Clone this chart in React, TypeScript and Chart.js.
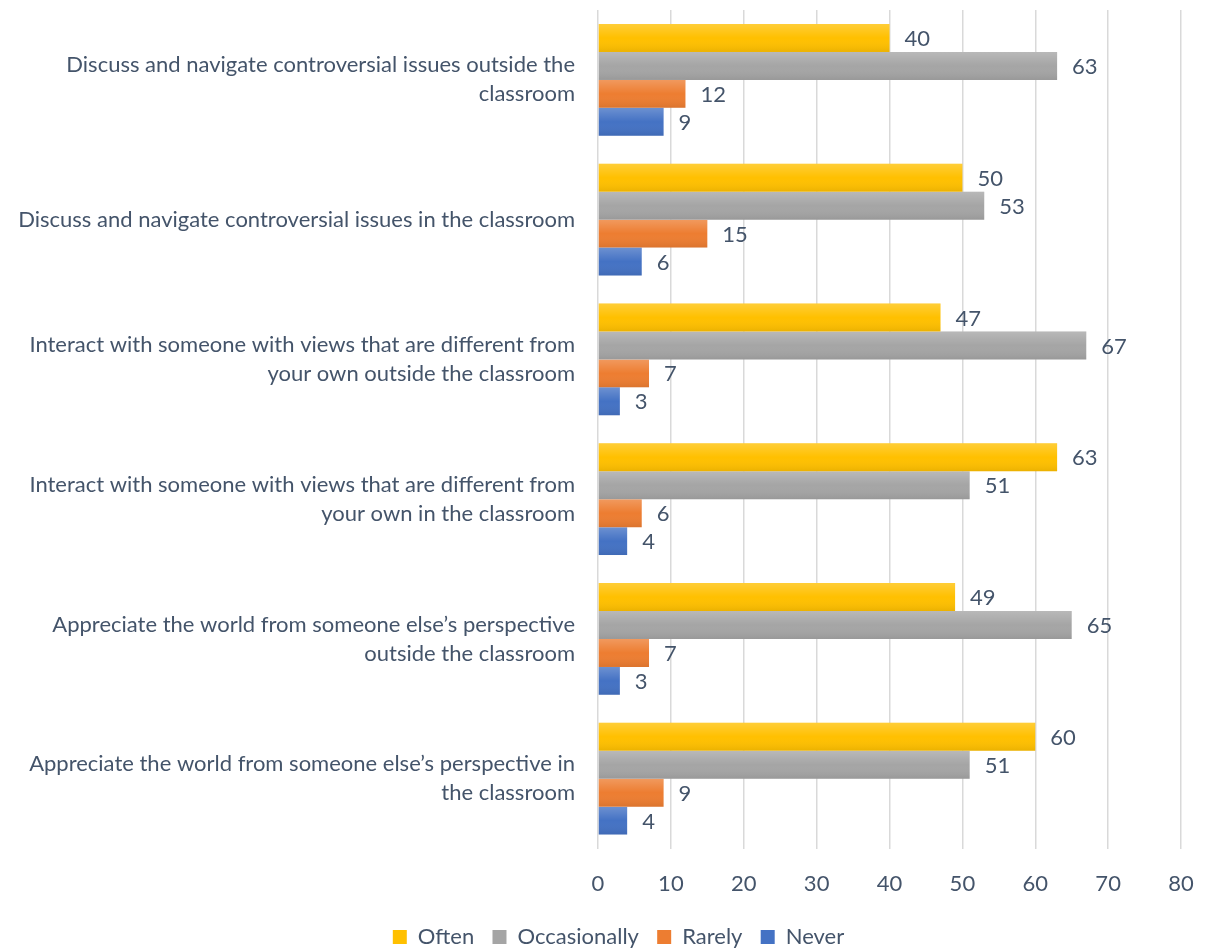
import React, { useEffect, useRef } from "react";
import { Chart, registerables } from "chart.js";

Chart.register(...registerables);

const categories: (string | string[])[] = [
  ["Discuss and navigate controversial issues outside the", "classroom"],
  "Discuss and navigate controversial issues in the classroom",
  ["Interact with someone with views that are different from", "your own outside the classroom"],
  ["Interact with someone with views that are different from", "your own in the classroom"],
  ["Appreciate the world from someone else\u2019s perspective", "outside the classroom"],
  ["Appreciate the world from someone else\u2019s perspective in", "the classroom"],
];

const seriesNames = ["Often", "Occasionally", "Rarely", "Never"];
const often = [40, 50, 47, 63, 49, 60];
const occasionally = [63, 53, 67, 51, 65, 51];
const rarely = [12, 15, 7, 6, 7, 9];
const never = [9, 6, 3, 4, 3, 4];

const xTicks = [0, 10, 20, 30, 40, 50, 60, 70, 80];

const TEXT = "#44546A";
const FONT = "Lato, 'Noto Sans', sans-serif";
const FS = 22;

const shadePlugin = {
  id: "shade",
  afterDatasetsDraw(chart: any) {
    const ctx = chart.ctx;
    chart.data.datasets.forEach((ds: any, di: number) => {
      const meta = chart.getDatasetMeta(di);
      meta.data.forEach((el: any) => {
        const top = el.y - el.height / 2;
        const bottom = el.y + el.height / 2;
        const g = ctx.createLinearGradient(0, top, 0, bottom);
        g.addColorStop(0, "rgba(255,255,255,0.22)");
        g.addColorStop(0.5, "rgba(255,255,255,0)");
        g.addColorStop(1, "rgba(0,0,0,0.08)");
        ctx.save();
        ctx.fillStyle = g;
        ctx.fillRect(Math.min(el.base, el.x), top, Math.abs(el.x - el.base), bottom - top);
        ctx.restore();
      });
    });
  },
};

const labelPlugin = {
  id: "valueLabels",
  afterDatasetsDraw(chart: any) {
    const ctx = chart.ctx;
    ctx.save();
    ctx.font = `${FS}px ${FONT}`;
    ctx.fillStyle = TEXT;
    ctx.textAlign = "left";
    ctx.textBaseline = "middle";
    chart.data.datasets.forEach((ds: any, di: number) => {
      const meta = chart.getDatasetMeta(di);
      meta.data.forEach((el: any, i: number) => {
        ctx.fillText(String(ds.data[i]), el.x + 15, el.y + 1);
      });
    });
    ctx.restore();
  },
};

const legendShift = {
  id: "legendShift",
  afterLayout(chart: any) {
    if (chart.legend) {
      chart.legend.left += 28;
      chart.legend.right += 28;
    }
  },
};

export default function App() {
  const ref = useRef<HTMLCanvasElement>(null);
  useEffect(() => {
    if (!ref.current) return;
    const chart = new Chart(ref.current, {
      type: "bar",
      data: {
        labels: categories,
        datasets: [
          { label: seriesNames[0], data: often, backgroundColor: "#FFC000" },
          { label: seriesNames[1], data: occasionally, backgroundColor: "#A5A5A5" },
          { label: seriesNames[2], data: rarely, backgroundColor: "#ED7D31" },
          { label: seriesNames[3], data: never, backgroundColor: "#4472C4" },
        ],
      },
      options: {
        indexAxis: "y",
        animation: false,
        responsive: true,
        maintainAspectRatio: false,
        layout: { padding: { top: 10, right: 35, bottom: -9, left: 0 } },
        datasets: { bar: { categoryPercentage: 0.8, barPercentage: 1 } },
        scales: {
          x: {
            min: 0,
            max: 80,
            afterBuildTicks: (scale: any) => {
              scale.ticks = xTicks.map((v) => ({ value: v }));
            },
            grid: { color: "#D9D9D9", lineWidth: 1.5, drawTicks: false },
            border: { display: false },
            ticks: { color: TEXT, font: { family: FONT, size: FS }, padding: 22 },
          },
          y: {
            grid: { display: false, drawTicks: false },
            border: { display: false },
            afterFit: (scale: any) => {
              scale.width = 598;
              scale.paddingTop = 0;
              scale.paddingBottom = 0;
            },
            ticks: {
              color: TEXT,
              font: { family: FONT, size: FS, lineHeight: 1.32 },
              padding: 23,
              autoSkip: false,
            },
          },
        },
        plugins: {
          legend: {
            position: "bottom",
            labels: {
              color: TEXT,
              font: { family: FONT, size: FS },
              boxWidth: 14,
              boxHeight: 14,
              padding: 7,
              generateLabels: (chart: any) => {
                const items = Chart.defaults.plugins.legend.labels.generateLabels(chart);
                return items.map((it: any, i: number) => ({
                  ...it,
                  text: i < items.length - 1 ? it.text + "  " : it.text,
                  lineWidth: 0,
                }));
              },
            },
          },
          tooltip: { enabled: false },
        },
      },
      plugins: [shadePlugin, labelPlugin, legendShift],
    });
    return () => chart.destroy();
  }, []);
  return (
    <div style={{ position: "fixed", left: 0, top: 0, width: 1216, height: 949, background: "#fff" }}>
      <canvas ref={ref} />
    </div>
  );
}
